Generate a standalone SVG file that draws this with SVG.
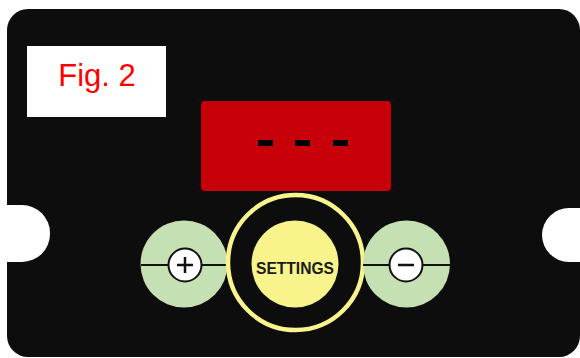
<svg xmlns="http://www.w3.org/2000/svg" width="580" height="358" viewBox="0 0 580 358">
<style>
.green{fill:#c5e0b3}
.knob{fill:#ffffff;stroke:#111;stroke-width:2}
.axis{stroke:#111;stroke-width:2}
.sign{stroke:#111;stroke-width:2.5}
.dash{fill:#000}
</style>
<rect width="580" height="358" fill="#ffffff"/>
<g id="board">
<rect x="7" y="9" width="573" height="348" rx="21" fill="#0d0d0d"/>
<rect x="-20" y="205" width="70" height="57" rx="28" fill="#ffffff"/>
<rect x="542" y="208" width="70" height="54" rx="27" fill="#ffffff"/>
</g>
<g id="fig-label">
<rect x="27" y="46" width="139" height="71" fill="#ffffff"/>
<text x="97" y="86" font-family="Liberation Sans, Arial, sans-serif" font-size="31" fill="#ff0000" text-anchor="middle">Fig. 2</text>
</g>
<g id="display">
<rect x="201" y="101" width="190" height="90" rx="4" fill="#c8000a"/>
<rect class="dash" x="258" y="140" width="15" height="6"/>
<rect class="dash" x="295" y="140" width="15" height="6"/>
<rect class="dash" x="333" y="140" width="15" height="6"/>
</g>
<g id="plus-button">
<circle class="green" cx="184" cy="264" r="43.5"/>
<line class="axis" x1="141" y1="265" x2="227" y2="265"/>
<circle class="knob" cx="185" cy="265" r="16.5"/>
<line class="sign" x1="177" y1="265" x2="193" y2="265"/>
<line class="sign" x1="185" y1="257" x2="185" y2="273"/>
</g>
<g id="settings-button">
<circle cx="295.5" cy="262.5" r="67.5" fill="none" stroke="#f9f58c" stroke-width="4.5"/>
<circle cx="295" cy="264" r="43.5" fill="#f8f38a"/>
<text x="295" y="273.5" font-family="Liberation Sans, Arial, sans-serif" font-size="16.5" font-weight="bold" fill="#1a1a1a" text-anchor="middle" textLength="78" lengthAdjust="spacingAndGlyphs">SETTINGS</text>
</g>
<g id="minus-button">
<circle class="green" cx="406.5" cy="264" r="43.5"/>
<line class="axis" x1="363" y1="265" x2="450" y2="265"/>
<circle class="knob" cx="406" cy="265" r="16.5"/>
<line class="sign" x1="398" y1="265" x2="414" y2="265"/>
</g>
</svg>
